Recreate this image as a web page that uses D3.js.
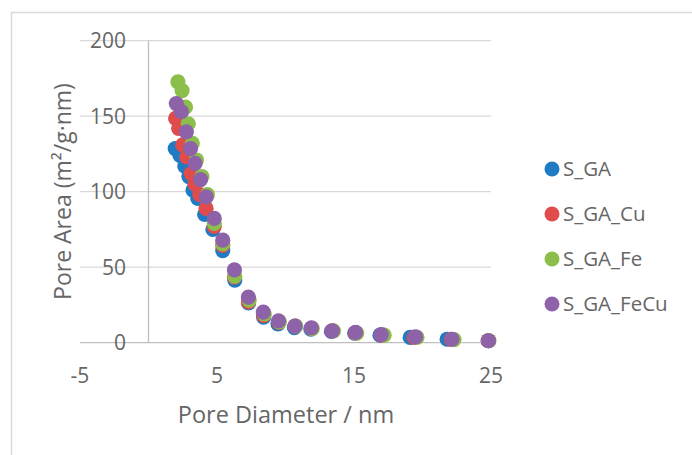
<!DOCTYPE html>
<html lang="en">
<head>
<meta charset="UTF-8">
<title>Pore Area</title>
<style>
  body { margin: 0; background: #fff; }
  text { font-family: "Open Sans", sans-serif; fill: #666666; }
</style>
</head>
<body>
<svg id="chart" width="692" height="455"></svg>
<script src="https://d3js.org/d3.v7.min.js"></script>
<script>

    // series data (pore diameter nm, pore area m2/g.nm)
    var gaX   = [1.95, 2.3, 2.65, 2.95, 3.25, 3.6, 4.1, 4.7, 5.42, 6.3, 7.3, 8.4, 9.45, 10.65, 11.85, 13.35, 15.05, 16.9, 19.1, 21.8, 24.8];
    var gaY   = [128.6, 124, 117, 110, 101, 95.5, 85, 75, 61, 41.5, 26.3, 17, 12.5, 10, 9, 7.5, 6.3, 5, 3.5, 2.3, 1.3];

    var cuX   = [1.98, 2.2, 2.5, 2.8, 3.12, 3.4, 3.75, 4.2, 4.8, 5.42, 6.27, 7.3, 8.4, 9.5, 10.7, 11.9, 13.4, 15.1, 17.0, 19.4, 22.1, 24.8];
    var cuY   = [148.5, 142, 131, 123, 112, 105, 98, 89, 77, 64.5, 43.5, 27, 18, 13.5, 11, 9.5, 7.8, 6.5, 5, 3.5, 2.2, 1.3];

    var feX   = [2.15, 2.45, 2.7, 2.9, 3.2, 3.5, 3.9, 4.3, 4.8, 5.42, 6.3, 7.35, 8.45, 9.55, 10.75, 11.95, 13.5, 15.2, 17.2, 19.6, 22.3, 24.85];
    var feY   = [172.7, 167, 156, 145, 132, 121, 110, 98, 79, 65.5, 44, 28.2, 19, 13.8, 11, 9.3, 7.8, 6.3, 5, 3.6, 2.1, 1.3];

    var fecuX = [2.03, 2.4, 2.76, 3.07, 3.4, 3.8, 4.21, 4.8, 5.42, 6.27, 7.29, 8.38, 9.49, 10.69, 11.89, 13.42, 15.12, 16.99, 19.49, 22.15, 24.82];
    var fecuY = [158.4, 153, 139.6, 128.6, 118.7, 108, 96.6, 82.3, 67.9, 48.2, 30.2, 20.3, 14.4, 11.0, 9.9, 7.9, 6.9, 5.3, 3.8, 2.3, 1.3];

    var seriesNames = ["S_GA", "S_GA_Cu", "S_GA_Fe", "S_GA_FeCu"];
    var seriesColors = ["#1f7bc3", "#e04b4b", "#8cbe4c", "#8d62a8"];
    var xTicks = [-5, 5, 15, 25];
    var yTicks = [0, 50, 100, 150, 200];

    var series = [[gaX, gaY], [cuX, cuY], [feX, feY], [fecuX, fecuY]].map(function (s, i) {
        return { name: seriesNames[i], color: seriesColors[i],
                 points: s[0].map(function (x, j) { return { x: x, y: s[1][j] }; }) };
    });

    var svg = d3.select("#chart"),
        r = 7.6;

    var x = d3.scaleLinear().domain([-5, 25]).range([80, 491]),
        y = d3.scaleLinear().domain([0, 200]).range([342.7, 40.7]);

    // chart border
    svg.append("rect")
        .attr("x", 11.5).attr("y", 12.5)
        .attr("width", 700).attr("height", 460)
        .attr("fill", "none").attr("stroke", "#d9d9d9").attr("stroke-width", 1.5);

    // horizontal gridlines
    svg.selectAll(".grid").data(yTicks.filter(function (d) { return d > 0; }))
        .enter().append("line")
        .attr("x1", x(-5)).attr("x2", x(25))
        .attr("y1", function (d) { return y(d); }).attr("y2", function (d) { return y(d); })
        .attr("stroke", "#d9d9d9").attr("stroke-width", 1.3);

    // axis lines
    svg.append("line")
        .attr("x1", x(-5)).attr("x2", x(25)).attr("y1", y(0)).attr("y2", y(0))
        .attr("stroke", "#bfbfbf").attr("stroke-width", 1.3);
    svg.append("line")
        .attr("x1", x(0)).attr("x2", x(0)).attr("y1", y(200)).attr("y2", y(0))
        .attr("stroke", "#bfbfbf").attr("stroke-width", 1.3);

    // tick labels
    svg.selectAll(".ylab").data(yTicks).enter().append("text")
        .attr("x", 126).attr("y", function (d) { return y(d) + 7.5; })
        .attr("text-anchor", "end").attr("font-size", 21)
        .text(function (d) { return d; });

    svg.selectAll(".xlab").data(xTicks).enter().append("text")
        .attr("x", function (d) { return x(d); }).attr("y", 383)
        .attr("text-anchor", "middle").attr("font-size", 21)
        .text(function (d) { return d; });

    // axis titles
    svg.append("text")
        .attr("x", 286).attr("y", 423)
        .attr("text-anchor", "middle").attr("font-size", 23.5)
        .text("Pore Diameter / nm");

    svg.append("text")
        .attr("transform", "translate(71,191.5) rotate(-90)")
        .attr("text-anchor", "middle").attr("font-size", 23)
        .text("Pore Area (m\u00b2/g\u00b7nm)");

    // markers, series drawn in order so the last sits on top
    series.forEach(function (s) {
        svg.append("g").selectAll("circle").data(s.points)
            .enter().append("circle")
            .attr("cx", function (d) { return x(d.x); })
            .attr("cy", function (d) { return y(d.y); })
            .attr("r", r)
            .attr("fill", s.color);
    });

    // legend
    var legend = svg.selectAll(".leg").data(series).enter().append("g")
        .attr("transform", function (d, i) { return "translate(552," + (169 + i * 45) + ")"; });
    legend.append("circle").attr("r", 7.5).attr("fill", function (d) { return d.color; });
    legend.append("text")
        .attr("x", 11).attr("y", 7.2).attr("font-size", 20.5)
        .text(function (d) { return d.name; });

</script>
</body>
</html>
